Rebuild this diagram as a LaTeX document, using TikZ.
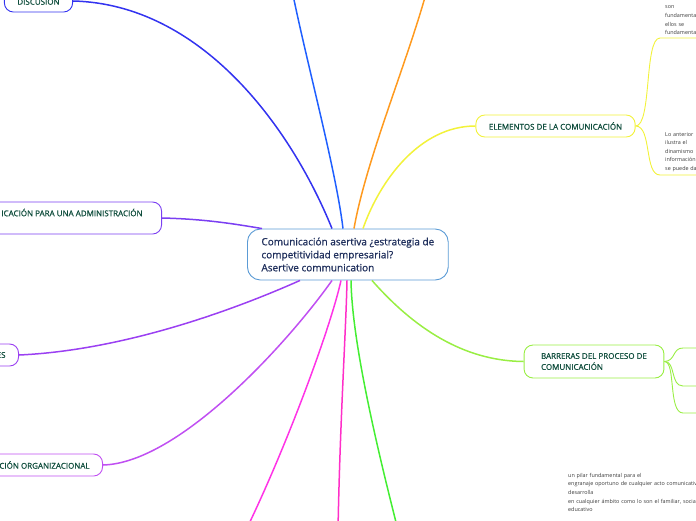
\documentclass[tikz,border=0pt]{standalone}
\usepackage{fontspec}
\setmainfont{Open Sans}
\newfontfamily\semib{Open Sans}[FakeBold=0.8]
\usetikzlibrary{positioning}
\definecolor{rootc}{HTML}{5B9BD5}
\definecolor{navy}{HTML}{1F2F5C}
\definecolor{ink}{HTML}{0F4D3C}
\definecolor{grey}{HTML}{3A3A3A}
\definecolor{cdisc}{HTML}{3333F0}
\definecolor{cblue}{HTML}{1F5FFF}
\definecolor{corange}{HTML}{FF9A1F}
\definecolor{cyel}{HTML}{F2F23A}
\definecolor{cadm}{HTML}{7B3FF2}
\definecolor{ces}{HTML}{9B40F2}
\definecolor{corg}{HTML}{C04FF2}
\definecolor{cmag}{HTML}{FF33E6}
\definecolor{cpink}{HTML}{FF2FC8}
\definecolor{cgreen}{HTML}{44EE33}
\definecolor{cbar}{HTML}{99EE44}

\begin{document}
\begin{tikzpicture}[x=1pt,y=-1pt,
topic/.style={draw,fill=white,rounded corners=9pt,line width=0.9pt,inner xsep=13pt,minimum height=22pt,font=\semib\fontsize{8}{11}\selectfont,text=ink},
leaf/.style={anchor=south west,align=left,text width=60pt,inner xsep=5pt,inner ysep=3pt,font=\fontsize{5.4}{8.6}\selectfont,text=grey},
br/.style={line width=1.5pt},
sub/.style={line width=0.9pt}]
\useasboundingbox (0,0) rectangle (696,520);
% central topic
\node[topic,draw=rootc,rounded corners=13pt,minimum height=51pt,inner xsep=14pt,align=left,font=\semib\fontsize{10}{13}\selectfont,text=navy,anchor=west] (root) at (247,254.5) {Comunicación asertiva ¿estrategia de\\competitividad empresarial?\\Asertive communication};
% main topics
\node[topic,draw=cdisc] (disc) at (38.5,1) {DISCUSIÓN};
\node[topic,draw=cadm,anchor=east,align=right,inner xsep=19pt,minimum height=32pt] (adm) at (162,218) {ICACIÓN PARA UNA ADMINISTRACIÓN\\\mbox{}};
\node[topic,draw=ces,anchor=east] (es) at (19,355) {ES};
\node[topic,draw=corg,anchor=east] (org) at (103,465) {CIÓN ORGANIZACIONAL};
\node[topic,draw=cyel] (elem) at (555.5,126) {ELEMENTOS DE LA COMUNICACIÓN};
\node[topic,draw=cbar,align=left,minimum height=33pt,inner xsep=17pt] (bar) at (594,361.5) {BARRERAS DEL PROCESO DE\\COMUNICACIÓN};
% subtopics
\node[leaf] (e1) at (660,38) {son\\fundamentales\\ellos se\\fundamentan};
\node[leaf] (e2) at (660,175) {Lo anterior\\ilustra el\\dinamismo\\información\\se puede dar};
\node[leaf,anchor=north west,text width=160pt] (pilar) at (563,470) {un pilar fundamental para el\\engranaje oportuno de cualquier acto comunicativo\\desarrolla\\en cualquier ámbito como lo son el familiar, social\\educativo};
\coordinate (t1) at (292,-10); \coordinate (t2) at (427,-10);
\coordinate (u1) at (246,530); \coordinate (u2) at (338,530); \coordinate (u3) at (398,530);
\coordinate (b1) at (683,348); \coordinate (b1e) at (700,348);
\coordinate (b2) at (683,386); \coordinate (b2e) at (700,386);
\coordinate (b3) at (683,413); \coordinate (b3e) at (700,413);
% branches
\draw[br,cdisc] (disc.east) .. controls (200,4) and (290,125) .. ([xshift=85pt]root.north west);
\draw[br,cblue] (t1) .. controls (306,60) and (336,170) .. ([xshift=96pt]root.north west);
\draw[br,corange] (t2) .. controls (408,60) and (366,160) .. ([xshift=107pt]root.north west);
\draw[br,cyel] (elem.west) .. controls (420,126) and (380,180) .. ([xshift=116pt]root.north west);
\draw[br,cadm] (adm.east) .. controls (205,219) and (235,224) .. ([xshift=15pt]root.north west);
\draw[br,ces] (es.east) .. controls (130,350) and (245,305) .. ([xshift=53pt]root.south west);
\draw[br,corg] (org.east) .. controls (180,463) and (290,340) .. ([xshift=85pt]root.south west);
\draw[br,cmag] (u1) .. controls (285,450) and (330,330) .. ([xshift=94pt]root.south west);
\draw[br,cpink] (u2) .. controls (340,420) and (346,330) .. ([xshift=100pt]root.south west);
\draw[br,cgreen] (u3) .. controls (375,440) and (352,340) .. ([xshift=104pt]root.south west);
\draw[br,cbar] ([xshift=125pt]root.south west) .. controls (420,335) and (470,361) .. (bar.west);
\draw[sub,cyel] (elem.east) .. controls (652,126) and (644,38) .. (e1.south west) -- (e1.south east);
\draw[sub,cyel] (elem.east) .. controls (652,126) and (644,175) .. (e2.south west) -- (e2.south east);
\draw[sub,cbar] (bar.east) .. controls (676,361) and (672,348) .. (b1) -- (b1e);
\draw[sub,cbar] (bar.east) .. controls (676,361) and (670,386) .. (b2) -- (b2e);
\draw[sub,cbar] (bar.east) .. controls (676,361) and (668,413) .. (b3) -- (b3e);
\end{tikzpicture}
\end{document}
